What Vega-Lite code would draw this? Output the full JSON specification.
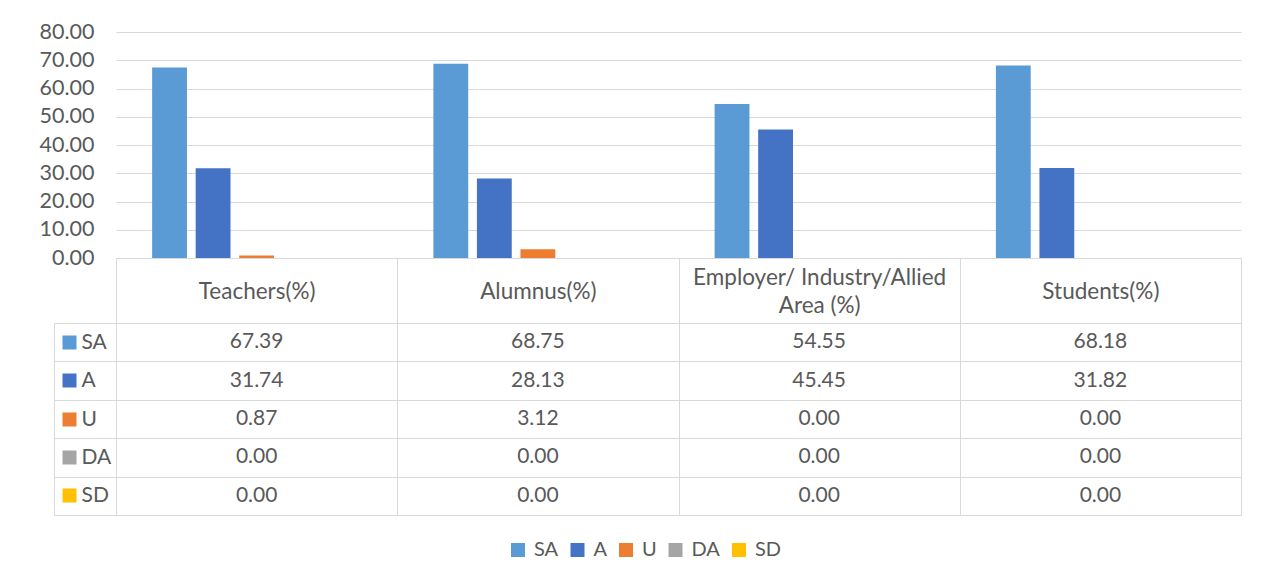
{
  "$schema": "https://vega.github.io/schema/vega-lite/v6.json",
  "background": "white",
  "padding": {"left": 39, "top": 21, "right": 10, "bottom": 10},
  "config": {
    "font": "Lato",
    "view": {"stroke": null},
    "axis": {"labelFont": "Lato", "labelColor": "#595959", "labelFontSize": 21.5, "title": null}
  },
  "data": {
    "values": [
      {"Group": "Teachers(%)", "Rating": "SA", "Value": 67.39},
      {"Group": "Teachers(%)", "Rating": "A", "Value": 31.74},
      {"Group": "Teachers(%)", "Rating": "U", "Value": 0.87},
      {"Group": "Teachers(%)", "Rating": "DA", "Value": 0.0},
      {"Group": "Teachers(%)", "Rating": "SD", "Value": 0.0},
      {"Group": "Alumnus(%)", "Rating": "SA", "Value": 68.75},
      {"Group": "Alumnus(%)", "Rating": "A", "Value": 28.13},
      {"Group": "Alumnus(%)", "Rating": "U", "Value": 3.12},
      {"Group": "Alumnus(%)", "Rating": "DA", "Value": 0.0},
      {"Group": "Alumnus(%)", "Rating": "SD", "Value": 0.0},
      {"Group": "Employer/ Industry/Allied Area (%)", "Rating": "SA", "Value": 54.55},
      {"Group": "Employer/ Industry/Allied Area (%)", "Rating": "A", "Value": 45.45},
      {"Group": "Employer/ Industry/Allied Area (%)", "Rating": "U", "Value": 0.0},
      {"Group": "Employer/ Industry/Allied Area (%)", "Rating": "DA", "Value": 0.0},
      {"Group": "Employer/ Industry/Allied Area (%)", "Rating": "SD", "Value": 0.0},
      {"Group": "Students(%)", "Rating": "SA", "Value": 68.18},
      {"Group": "Students(%)", "Rating": "A", "Value": 31.82},
      {"Group": "Students(%)", "Rating": "U", "Value": 0.0},
      {"Group": "Students(%)", "Rating": "DA", "Value": 0.0},
      {"Group": "Students(%)", "Rating": "SD", "Value": 0.0}
    ]
  },
  "bounds": "flush",
  "spacing": 65,
  "resolve": {"scale": {"x": "independent", "y": "independent", "xOffset": "independent"}},
  "vconcat": [
    {
      "width": 1125,
      "height": 226,
      "mark": {"type": "bar"},
      "encoding": {
        "x": {
          "field": "Group", "type": "nominal",
          "sort": ["Teachers(%)", "Alumnus(%)", "Employer/ Industry/Allied Area (%)", "Students(%)"],
          "scale": {"paddingInner": 0, "paddingOuter": 0},
          "axis": {
            "orient": "bottom", "domain": true, "domainColor": "#d9d9d9", "domainWidth": 1,
            "ticks": true, "tickSize": 65, "tickColor": "#d9d9d9", "tickBand": "extent",
            "labelAngle": 0, "labelPadding": -32,
            "labelBaseline": {
              "condition": {"test": "datum.value == 'Employer/ Industry/Allied Area (%)'", "value": "line-bottom"},
              "value": "middle"
            },
            "labelFontSize": 22.5,
            "labelLimit": 0, "labelOverlap": false,
            "labelExpr": "datum.value == 'Employer/ Industry/Allied Area (%)' ? ['Employer/ Industry/Allied', 'Area (%)'] : datum.label",
            "labelLineHeight": 28
          }
        },
        "xOffset": {
          "field": "Rating", "type": "nominal",
          "sort": ["SA", "A", "U", "DA", "SD"],
          "scale": {"paddingInner": 0.2, "paddingOuter": 0.83}
        },
        "y": {
          "field": "Value", "type": "quantitative",
          "scale": {"domain": [0, 80]},
          "axis": {
            "values": [0, 10, 20, 30, 40, 50, 60, 70, 80], "format": ".2f",
            "grid": true, "gridColor": "#d9d9d9", "gridWidth": 1,
            "domain": false, "ticks": false, "labelPadding": 22
          }
        },
        "color": {
          "field": "Rating", "type": "nominal",
          "scale": {"domain": ["SA", "A", "U", "DA", "SD"], "range": ["#5b9bd5", "#4472c4", "#ed7d31", "#a5a5a5", "#ffc000"]},
          "legend": {
            "orient": "none", "legendX": 392, "legendY": 508, "direction": "horizontal",
            "title": null, "symbolType": "square", "symbolSize": 196, "symbolStrokeWidth": 0,
            "labelFont": "Lato", "labelFontSize": 20, "labelColor": "#595959",
            "columnPadding": 8.5, "labelOffset": 6
          }
        }
      }
    },
    {
      "width": 1125,
      "height": 192,
      "resolve": {"axis": {"y": "independent"}},
      "layer": [
        {
          "mark": {"type": "text", "fontSize": 21, "color": "#595959", "font": "Lato"},
          "encoding": {
            "x": {
              "field": "Group", "type": "nominal",
              "sort": ["Teachers(%)", "Alumnus(%)", "Employer/ Industry/Allied Area (%)", "Students(%)"],
              "scale": {"paddingInner": 0, "paddingOuter": 0},
              "axis": {"orient": "top", "labels": false, "ticks": false, "domain": false, "grid": true, "gridColor": "#d9d9d9", "tickBand": "extent"}
            },
            "y": {
              "field": "Rating", "type": "nominal",
              "sort": ["SA", "A", "U", "DA", "SD"],
              "scale": {"paddingInner": 0, "paddingOuter": 0},
              "axis": {
                "orient": "left", "domain": false, "ticks": true, "tickSize": 62, "tickColor": "#d9d9d9",
                "tickBand": "extent", "grid": true, "gridColor": "#d9d9d9",
                "labelAlign": "left", "labelPadding": -27, "labelFontSize": 21
              }
            },
            "text": {"field": "Value", "type": "quantitative", "format": ".2f"}
          }
        },
        {
          "mark": {"type": "text", "text": ""},
          "encoding": {
            "y": {
              "field": "Rating", "type": "nominal",
              "sort": ["SA", "A", "U", "DA", "SD"],
              "axis": {
                "orient": "left", "offset": 40, "domain": false, "labels": false, "grid": false,
                "ticks": true, "tickSize": 14, "tickWidth": 14,
                "tickColor": {
                  "condition": [
                    {"test": "datum.value === 'SA'", "value": "#5b9bd5"},
                    {"test": "datum.value === 'A'", "value": "#4472c4"},
                    {"test": "datum.value === 'U'", "value": "#ed7d31"},
                    {"test": "datum.value === 'DA'", "value": "#a5a5a5"}
                  ],
                  "value": "#ffc000"
                }
              }
            }
          }
        },
        {
          "mark": {"type": "text", "text": ""},
          "encoding": {
            "y": {
              "field": "Rating", "type": "nominal",
              "sort": ["SA", "A", "U", "DA", "SD"],
              "axis": {
                "orient": "left", "offset": 62, "domain": true, "domainColor": "#d9d9d9",
                "labels": false, "grid": false, "ticks": false
              }
            }
          }
        }
      ]
    }
  ]
}
